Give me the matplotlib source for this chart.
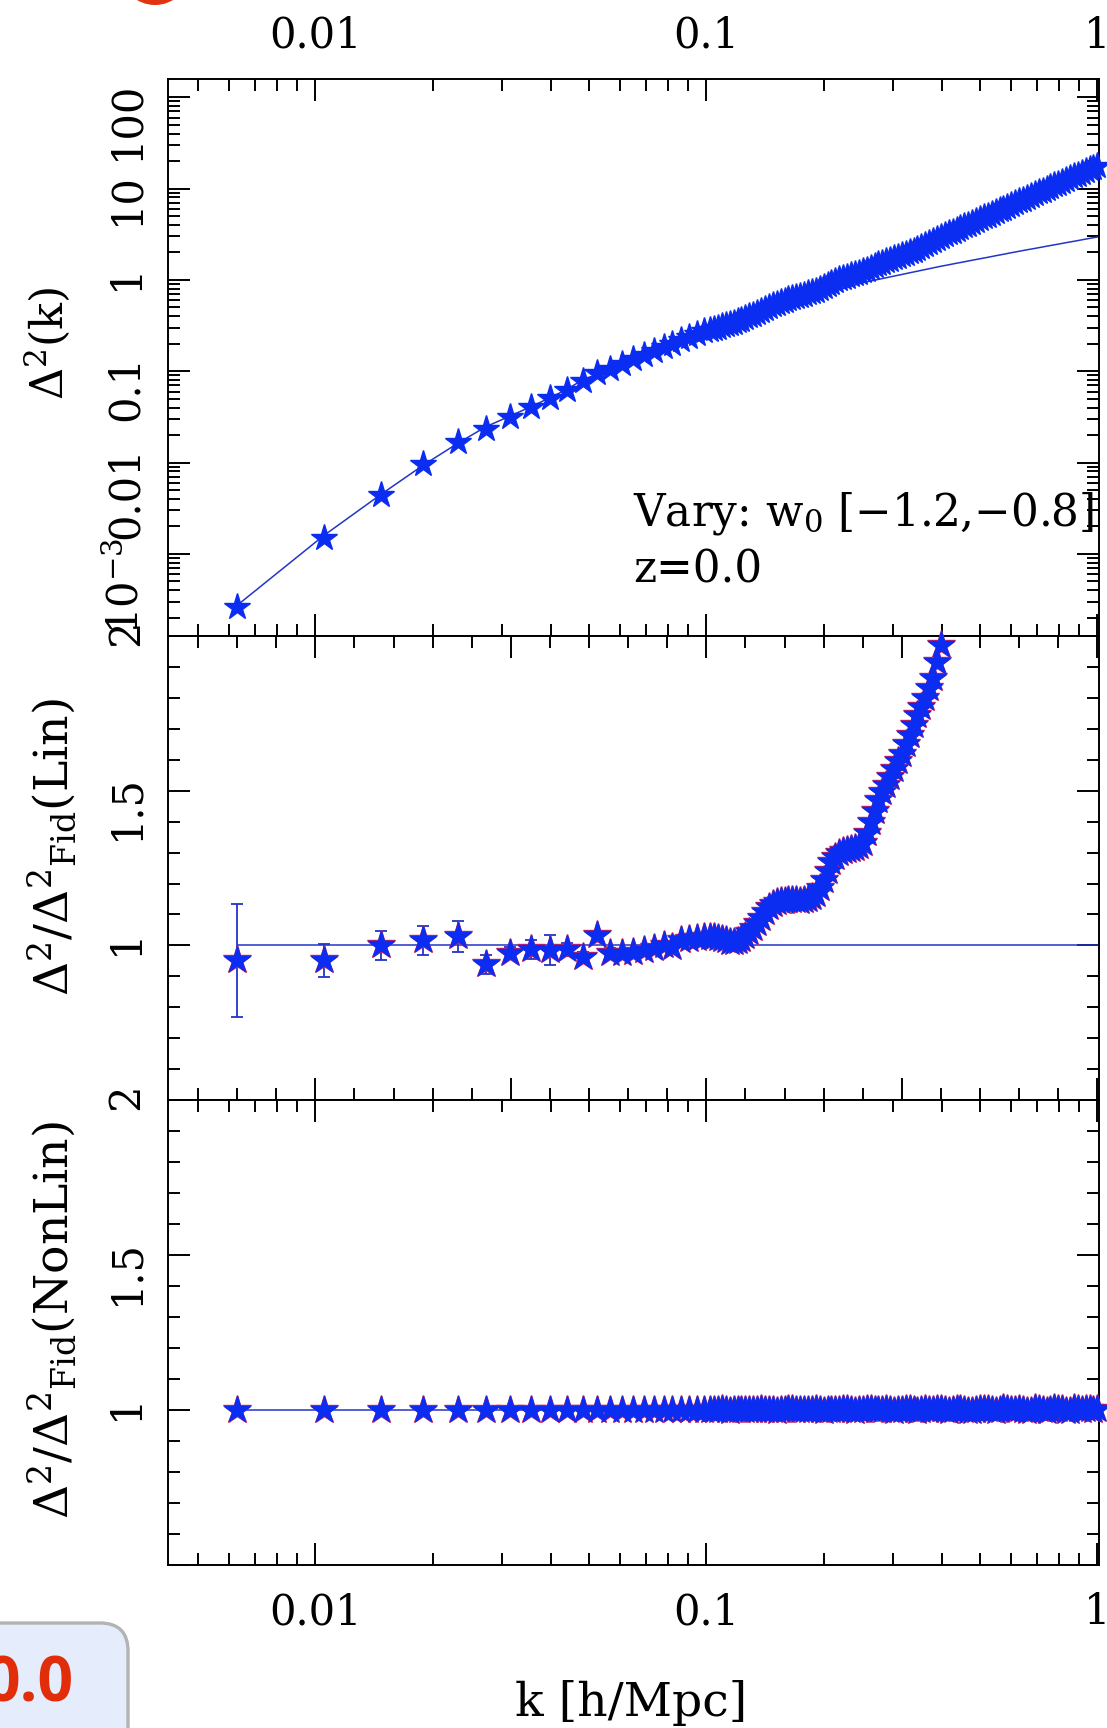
import matplotlib
matplotlib.use("Agg")
import matplotlib.pyplot as plt
import numpy as np
from matplotlib.patches import FancyBboxPatch, Circle
from matplotlib.transforms import IdentityTransform
from matplotlib.ticker import (FixedLocator, NullFormatter, FuncFormatter,
                               LogLocator, MultipleLocator)

# ---------------- data ----------------
# low-k bins (linear spacing), then a dense log grid above k = 0.1
k = [0.0063, 0.0105, 0.0147, 0.0189, 0.0231, 0.0273, 0.0315, 0.0357, 0.0399,
     0.0441, 0.0483, 0.0525, 0.0567, 0.0609, 0.0651, 0.0693, 0.0735, 0.0777,
     0.0819, 0.0861, 0.0903, 0.0945, 0.0987,
     0.1023, 0.1047, 0.1072, 0.1096, 0.1122, 0.1148, 0.1175, 0.1202, 0.1230,
     0.1259, 0.1288, 0.1318, 0.1349, 0.1380, 0.1413, 0.1445, 0.1479, 0.1514,
     0.1549, 0.1585, 0.1622, 0.1660, 0.1698, 0.1738, 0.1778, 0.1820, 0.1862,
     0.1905, 0.1950, 0.1995, 0.2042, 0.2089, 0.2138, 0.2188, 0.2239, 0.2291,
     0.2344, 0.2399, 0.2455, 0.2512, 0.2570, 0.2630, 0.2692, 0.2754, 0.2818,
     0.2884, 0.2951, 0.3020, 0.3090, 0.3162, 0.3236, 0.3311, 0.3388, 0.3467,
     0.3548, 0.3631, 0.3715, 0.3802, 0.3890, 0.3981, 0.4074, 0.4169, 0.4266,
     0.4365, 0.4467, 0.4571, 0.4677, 0.4786, 0.4898, 0.5012, 0.5129, 0.5248,
     0.5370, 0.5495, 0.5623, 0.5754, 0.5888, 0.6026, 0.6166, 0.6310, 0.6457,
     0.6607, 0.6761, 0.6918, 0.7079, 0.7244, 0.7413, 0.7586, 0.7762, 0.7943,
     0.8128, 0.8318, 0.8511, 0.8710, 0.8913, 0.9120, 0.9333, 0.9550, 0.9772,
     1.0000]

# measured Delta^2(k)
delta2 = [2.59e-4, 1.51e-3, 4.47e-3, 9.55e-3, 0.0167, 0.0232, 0.0316, 0.0406,
          0.0507, 0.0630, 0.0773, 0.0955, 0.106, 0.121, 0.136, 0.152, 0.168,
          0.185, 0.199, 0.219, 0.236, 0.254, 0.273,
          0.282, 0.292, 0.301, 0.310, 0.319, 0.328, 0.340, 0.352, 0.366,
          0.382, 0.399, 0.418, 0.439, 0.461, 0.485, 0.509, 0.530, 0.552,
          0.572, 0.593, 0.612, 0.631, 0.649, 0.667, 0.689, 0.711, 0.736,
          0.762, 0.801, 0.841, 0.888, 0.937, 0.976, 1.016, 1.051, 1.086,
          1.121, 1.156, 1.198, 1.242, 1.300, 1.361, 1.424, 1.489, 1.547,
          1.607, 1.667, 1.730, 1.795, 1.862, 1.934, 2.009, 2.092, 2.178,
          2.299, 2.427, 2.547, 2.673, 2.809, 2.951, 3.087, 3.228, 3.377,
          3.532, 3.694, 3.864, 4.041, 4.227, 4.421, 4.624, 4.836, 5.058,
          5.290, 5.534, 5.788, 6.053, 6.331, 6.622, 6.926, 7.244, 7.577,
          7.925, 8.289, 8.670, 9.068, 9.484, 9.920, 10.38, 10.85, 11.35,
          11.87, 12.42, 12.99, 13.58, 14.21, 14.86, 15.54, 16.26, 17.00,
          17.78]

# fiducial linear Delta^2(k)
delta2_lin = [2.72e-4, 1.585e-3, 4.47e-3, 9.40e-3, 0.0162, 0.0247, 0.0324,
              0.0412, 0.0515, 0.0638, 0.0807, 0.0925, 0.108, 0.124, 0.140,
              0.155, 0.169, 0.184, 0.200, 0.215, 0.231, 0.248, 0.265,
              0.2754, 0.2838, 0.2934, 0.3034, 0.3136, 0.3243, 0.3353, 0.3467,
              0.3585, 0.3707, 0.3833, 0.3963, 0.4097, 0.4236, 0.4380, 0.4529,
              0.4683, 0.4842, 0.5006, 0.5176, 0.5333, 0.5495, 0.5656, 0.5821,
              0.5998, 0.6180, 0.6359, 0.6546, 0.6745, 0.6950, 0.7161, 0.7379,
              0.7593, 0.7816, 0.8054, 0.8299, 0.8541, 0.8790, 0.9057, 0.9333,
              0.9528, 0.9727, 0.9931, 1.014, 1.035, 1.057, 1.079, 1.102,
              1.125, 1.148, 1.172, 1.197, 1.222, 1.247, 1.274, 1.300, 1.327,
              1.355, 1.384, 1.413, 1.439, 1.466, 1.495, 1.524, 1.552, 1.581,
              1.612, 1.644, 1.675, 1.706, 1.738, 1.770, 1.805, 1.841, 1.875,
              1.910, 1.948, 1.986, 2.023, 2.061, 2.099, 2.138, 2.175, 2.213,
              2.254, 2.296, 2.339, 2.382, 2.424, 2.466, 2.512, 2.559, 2.604,
              2.649, 2.698, 2.748, 2.799, 2.851, 2.901, 2.951]

# ratio to the fiducial linear spectrum; errors on the large-scale bins
ratio_lin = [0.952, 0.952, 1.000, 1.016, 1.030, 0.939, 0.977, 0.987, 0.984,
             0.987, 0.961, 1.032, 0.977, 0.975, 0.978, 0.985, 0.992, 1.002,
             0.995, 1.018, 1.022, 1.025, 1.027,
             1.028, 1.028, 1.025, 1.022, 1.017, 1.012, 1.012, 1.015, 1.022,
             1.030, 1.042, 1.055, 1.072, 1.090, 1.108, 1.125, 1.134, 1.140,
             1.143, 1.145, 1.147, 1.148, 1.147, 1.145, 1.147, 1.150, 1.156,
             1.165, 1.185, 1.210, 1.240, 1.270, 1.287, 1.300, 1.306, 1.310,
             1.312, 1.315, 1.320, 1.330, 1.362, 1.400, 1.435, 1.470, 1.495,
             1.520, 1.545, 1.570, 1.595, 1.620, 1.650, 1.680, 1.712, 1.745,
             1.772, 1.800, 1.832, 1.865, 1.915, 1.970, 2.08, 2.20, 2.26,
             2.32, 2.38, 2.44, 2.50, 2.57, 2.64, 2.71, 2.78, 2.86,
             2.93, 3.00, 3.07, 3.15, 3.23, 3.32, 3.41, 3.50, 3.60,
             3.70, 3.80, 3.90, 4.00, 4.10, 4.21, 4.32, 4.43, 4.55,
             4.67, 4.80, 4.92, 5.05, 5.17, 5.30, 5.45, 5.60, 5.80,
             6.00]
ratio_lin_err = [0.183, 0.053, 0.048, 0.047, 0.050, 0.030, 0.018, 0.030,
                 0.048, 0.020, 0.018, 0.015, 0.015, 0.012, 0.012, 0.011,
                 0.010, 0.010, 0.009, 0.009, 0.008, 0.008, 0.008]

# ratio to the fiducial nonlinear spectrum
ratio_nl = [1.000, 1.001, 0.999, 1.000, 1.001, 0.999, 1.000, 1.000, 1.001,
            0.999, 1.000, 1.001, 1.000, 0.999, 1.000, 1.000, 1.001, 1.000,
            0.999, 1.000, 1.001, 1.000, 1.000,
            1.000, 1.001, 1.000, 1.002, 0.999, 0.998, 1.000, 1.001, 1.000,
            1.000, 0.999, 0.999, 1.001, 1.002, 1.001, 1.000, 0.999, 0.998,
            1.000, 1.001, 1.002, 1.003, 1.001, 0.999, 0.999, 1.000, 1.001,
            1.002, 1.000, 0.998, 0.999, 1.001, 1.000, 1.000, 1.002, 1.003,
            1.000, 0.997, 0.999, 1.001, 1.002, 1.002, 1.000, 0.999, 1.001,
            1.003, 1.000, 0.998, 0.999, 1.001, 1.003, 1.004, 1.000, 0.997,
            0.999, 1.002, 1.001, 1.000, 1.003, 1.004, 1.000, 0.997, 0.999,
            1.003, 1.002, 1.001, 0.998, 0.996, 1.001, 1.004, 1.003, 1.002,
            0.999, 0.997, 1.001, 1.005, 1.002, 0.999, 1.000, 1.003, 1.001,
            0.996, 0.998, 1.005, 1.003, 1.001, 0.997, 0.999, 1.006, 1.004,
            1.002, 0.996, 0.998, 1.005, 1.003, 1.000, 1.002, 1.004, 1.001,
            1.004]

k = np.array(k)
delta2 = np.array(delta2)
delta2_lin = np.array(delta2_lin)
ratio_lin = np.array(ratio_lin)
ratio_nl = np.array(ratio_nl)
n_err = len(ratio_lin_err)

# ---------------- style ----------------
plt.rcParams["font.family"] = ["DejaVu Serif"]
plt.rcParams["mathtext.fontset"] = "dejavuserif"

BLUE = "#0b2df2"
LINE = "#2235c8"
RED = "#c8205a"
KMIN, KMAX = 0.0042, 1.01
FS = 30
MS = 20

fig = plt.figure(figsize=(11.07, 17.28), dpi=100)
L, W = 0.1518, 0.841
ax_top = fig.add_axes([L, 0.6319, W, 0.3223])
ax_lin = fig.add_axes([L, 0.3634, W, 0.2685])
ax_nl = fig.add_axes([L, 0.0943, W, 0.2691])

for ax in (ax_top, ax_lin, ax_nl):
    ax.set_xscale("log")
    ax.set_xlim(KMIN, KMAX)
    ax.tick_params(which="both", direction="in", top=True, right=True,
                   width=1.4, labelsize=FS, labelright=False)
    ax.tick_params(which="major", length=16)
    ax.tick_params(which="minor", length=8.5)
    ax.tick_params(axis="y", labelrotation=90, pad=15)
    for s in ax.spines.values():
        s.set_linewidth(1.4)

# ---------- top: Delta^2(k) ----------
ax = ax_top
ax.set_yscale("log")
ax.set_ylim(1.26e-4, 158)
ax.plot(k, delta2_lin, color=LINE, lw=1.1, zorder=2)
ax.plot(k, delta2, ls="none", marker="*", ms=MS, color=BLUE, mec=BLUE,
        clip_on=False, zorder=3)
ax.xaxis.set_major_locator(LogLocator(base=10, numticks=20))
ax.xaxis.set_minor_locator(LogLocator(base=10, subs=np.arange(2, 10), numticks=20))
ax.xaxis.set_major_formatter(FuncFormatter(lambda v, p: "%g" % v))
ax.xaxis.set_minor_formatter(NullFormatter())
ax.yaxis.set_major_locator(LogLocator(base=10, numticks=20))
ax.yaxis.set_minor_locator(LogLocator(base=10, subs=np.arange(2, 10), numticks=20))
ax.yaxis.set_major_formatter(FuncFormatter(
    lambda v, p: r"$\mathregular{10^{-3}}$" if v < 0.005 else "%g" % v))
ax.yaxis.set_minor_formatter(NullFormatter())
ax.tick_params(axis="x", labeltop=True, labelbottom=False, pad=16)
ax.set_ylabel(r"$\mathregular{\Delta^2(k)}$", fontsize=32)
ax.yaxis.set_label_coords(-0.103, 0.525)
ax.text(0.4995, 0.199, "Vary: $\\mathregular{w_0}$ [\u22121.2,\u22120.8]",
        transform=ax.transAxes, fontsize=31.5, va="baseline", ha="left")
ax.text(0.4995, 0.097, "z=0.0", transform=ax.transAxes, fontsize=31.5,
        va="baseline", ha="left")

# ---------- middle: ratio to linear fiducial ----------
ax = ax_lin
ax.set_ylim(0.5, 2.0)
ax.hlines(1.0, k[0], KMAX, color=LINE, lw=1.1, zorder=2)
ax.errorbar(k[:n_err], ratio_lin[:n_err], yerr=ratio_lin_err, fmt="none",
            ecolor=LINE, elinewidth=1.3, capsize=4.5, capthick=1.3, zorder=2)
shown = ratio_lin <= 2.0
ax.plot(k[shown], ratio_lin[shown], ls="none", marker="*", ms=MS + 1.5,
        color=RED, mec=RED, clip_on=False, zorder=3)
ax.plot(k[shown], ratio_lin[shown], ls="none", marker="*", ms=MS,
        color=BLUE, mec=BLUE, clip_on=False, zorder=4)
# ticks on this panel are evenly spaced in log10(k)
ax.xaxis.set_major_locator(FixedLocator(10 ** np.arange(-2.5, 0.01, 0.5)))
ax.xaxis.set_minor_locator(FixedLocator(10 ** np.arange(-2.4, 0.001, 0.1)))
ax.xaxis.set_major_formatter(NullFormatter())
ax.xaxis.set_minor_formatter(NullFormatter())
ax.tick_params(axis="x", labelbottom=False, labeltop=False)

# ---------- bottom: ratio to nonlinear fiducial ----------
ax = ax_nl
ax.set_ylim(0.5, 2.0)
ax.hlines(1.0, k[0], KMAX, color=LINE, lw=1.1, zorder=2)
ax.plot(k, ratio_nl, ls="none", marker="*", ms=MS + 1.5, color=RED, mec=RED,
        clip_on=False, zorder=3)
ax.plot(k, ratio_nl, ls="none", marker="*", ms=MS, color=BLUE, mec=BLUE,
        clip_on=False, zorder=4)
ax.xaxis.set_major_locator(LogLocator(base=10, numticks=20))
ax.xaxis.set_minor_locator(LogLocator(base=10, subs=np.arange(2, 10), numticks=20))
ax.xaxis.set_major_formatter(FuncFormatter(lambda v, p: "%g" % v))
ax.xaxis.set_minor_formatter(NullFormatter())
ax.tick_params(axis="x", labeltop=False, labelbottom=True, pad=19)

ratio_fmt = FuncFormatter(lambda v, p: "" if abs(v - 0.5) < 1e-6 else "%g" % v)
for ax in (ax_lin, ax_nl):
    ax.yaxis.set_major_locator(MultipleLocator(0.5))
    ax.yaxis.set_minor_locator(MultipleLocator(0.1))
    ax.yaxis.set_major_formatter(ratio_fmt)

ax_lin.set_ylabel(r"$\mathregular{\Delta^2/\Delta^2{}_{Fid}(Lin)}$", fontsize=34)
ax_lin.yaxis.set_label_coords(-0.096, 0.545)
ax_nl.set_ylabel(r"$\mathregular{\Delta^2/\Delta^2{}_{Fid}(NonLin)}$", fontsize=34)
ax_nl.yaxis.set_label_coords(-0.096, 0.528)

fig.text(631 / 1107, 1 - 1716 / 1728, "k [h/Mpc]", ha="center",
         va="baseline", fontsize=34)

# slide overlays: red marker at the top edge and a caption box bottom-left
fig.add_artist(Circle((155, 1728 + 30), 35, transform=IdentityTransform(),
                      facecolor="#e2330f", edgecolor="none"))
fig.add_artist(FancyBboxPatch((-60, -60), 188, 165,
                              boxstyle="round,pad=0,rounding_size=28",
                              transform=IdentityTransform(),
                              facecolor="#e5ecfb", edgecolor="#b3b3b3",
                              linewidth=2.4))
fig.text(74 / 1107, (1728 - 1702) / 1728, "0.0", ha="right", va="baseline",
         fontsize=45, fontweight="bold", color="#e22d0b",
         family=["Open Sans", "DejaVu Sans"])

fig.savefig("out.png", dpi=100)
